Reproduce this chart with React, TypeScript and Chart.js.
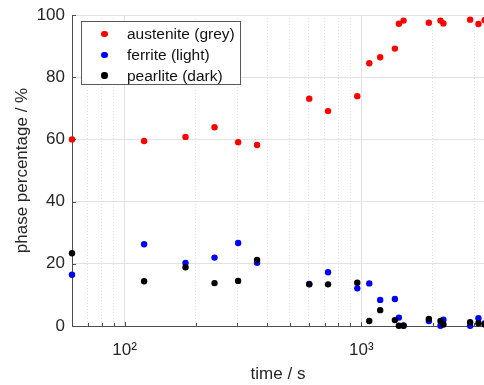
import React, { useEffect, useRef } from "react";
import { Chart, registerables } from "chart.js";

Chart.register(...registerables);

const times = [60, 121, 181, 240, 302, 363, 603, 724, 962, 1081, 1202, 1387, 1442, 1509, 1930, 2161, 2224, 2884, 3126, 3320];
const austenite = [60.0, 59.5, 60.8, 63.9, 59.1, 58.2, 73.1, 69.1, 73.9, 84.5, 86.4, 89.2, 97.2, 98.2, 97.5, 98.2, 97.3, 98.5, 97.1, 98.3];
const ferrite = [16.5, 26.3, 20.3, 22.0, 26.7, 20.3, 13.5, 17.3, 12.1, 13.7, 8.4, 8.7, 2.7, 0.2, 1.6, 0.1, 2.0, 0.1, 2.5, 0.8];
const pearlite = [23.4, 14.4, 18.9, 13.8, 14.5, 21.2, 13.4, 13.4, 13.9, 1.6, 5.1, 1.9, 0.1, 0.1, 2.3, 1.6, 0.5, 1.2, 0.9, 0.5];

const seriesLabels = ["austenite (grey)", "ferrite (light)", "pearlite (dark)"];
const seriesColors = ["#ff0000", "#0000ff", "#000000"];

const xMin = 60;
const xMax = 3300;
const yTicks = [0, 20, 40, 60, 80, 100];
const xMajorTicks = [100, 1000];
const xMinorTicks = [60, 70, 80, 90, 200, 300, 400, 500, 600, 700, 800, 900, 2000, 3000];
const xTickLabels: Record<number, string> = { 100: "10\u00B2", 1000: "10\u00B3" };

const FONT = "'Liberation Sans', Arial, Helvetica, sans-serif";
const AXIS_COLOR = "#4d4d4d";
const GRID_COLOR = "#e2e2e2";

const innerTicks = {
  id: "innerTicks",
  beforeDatasetsDraw(chart: any) {
    const { ctx, chartArea, scales } = chart;
    ctx.save();
    ctx.strokeStyle = AXIS_COLOR;
    ctx.lineWidth = 1;
    ctx.beginPath();
    for (const v of yTicks) {
      const y = Math.round(scales.y.getPixelForValue(v)) + 0.5;
      ctx.moveTo(chartArea.left, y);
      ctx.lineTo(chartArea.left + 4, y);
    }
    for (const v of [...xMajorTicks, ...xMinorTicks]) {
      const x = Math.round(scales.x.getPixelForValue(v)) + 0.5;
      ctx.moveTo(x, chartArea.bottom);
      ctx.lineTo(x, chartArea.bottom - (xMajorTicks.includes(v) ? 4 : 3));
    }
    ctx.stroke();
    ctx.restore();
  },
};

function makePoints(values: number[]) {
  return times.map((t, i) => ({ x: t, y: values[i] }));
}

function zeroPad(s: any) {
  s.paddingLeft = 0;
  s.paddingRight = 0;
  s.paddingTop = 0;
  s.paddingBottom = 0;
}

export default function App() {
  const canvasRef = useRef<HTMLCanvasElement | null>(null);

  useEffect(() => {
    document.body.style.margin = "0";
    const canvas = canvasRef.current;
    if (!canvas) return;
    const seriesValues = [austenite, ferrite, pearlite];
    const chart = new Chart(canvas, {
      type: "scatter",
      data: {
        datasets: seriesValues.map((vals, i) => ({
          label: seriesLabels[i],
          data: makePoints(vals),
          backgroundColor: seriesColors[i],
          borderColor: seriesColors[i],
          borderWidth: 0,
          pointRadius: 3.2,
          pointHoverRadius: 3.2,
          clip: false as any,
          order: 2 - i,
        })),
      },
      options: {
        animation: false,
        responsive: false,
        events: [],
        layout: { autoPadding: false, padding: { top: 15, right: 0, bottom: 0, left: 0 } },
        plugins: {
          legend: { display: false },
          tooltip: { enabled: false },
        },
        scales: {
          x: {
            type: "logarithmic",
            position: "bottom",
            min: xMin,
            max: xMax,
            afterBuildTicks: (s: any) => {
              s.ticks = [...xMinorTicks, ...xMajorTicks]
                .sort((a, b) => a - b)
                .map((v) => ({ value: v }));
            },
            afterFit: (s: any) => {
              s.height = 59;
              zeroPad(s);
            },
            grid: {
              drawTicks: false,
              color: (c: any) => (xMajorTicks.includes(c.tick?.value) ? GRID_COLOR : "rgba(0,0,0,0)"),
            },
            border: { display: true, color: AXIS_COLOR, width: 1 },
            ticks: {
              autoSkip: false,
              maxRotation: 0,
              padding: 14,
              color: "#262626",
              font: { family: FONT, size: 17 },
              callback: (v: any) => xTickLabels[Number(v)] ?? "",
            },
            title: {
              display: true,
              text: "time / s",
              color: "#262626",
              font: { family: FONT, size: 17 },
              padding: { top: 0, bottom: 0 },
            },
          },
          xm: {
            type: "logarithmic",
            position: "top",
            min: xMin,
            max: xMax,
            afterBuildTicks: (s: any) => {
              s.ticks = [...xMinorTicks].map((v) => ({ value: v }));
            },
            afterFit: (s: any) => {
              s.height = 0;
              zeroPad(s);
            },
            grid: { drawTicks: false, color: GRID_COLOR },
            border: { display: false, dash: [1, 2] },
            ticks: { display: false },
          },
          y: {
            type: "linear",
            position: "left",
            min: 0,
            max: 100,
            afterBuildTicks: (s: any) => {
              s.ticks = yTicks.map((v) => ({ value: v }));
            },
            afterFit: (s: any) => {
              s.width = 72;
              zeroPad(s);
            },
            grid: { drawTicks: false, color: GRID_COLOR },
            border: { display: true, color: AXIS_COLOR, width: 1 },
            ticks: {
              padding: 7,
              color: "#262626",
              font: { family: FONT, size: 17 },
            },
            title: {
              display: true,
              text: "phase percentage / %",
              color: "#262626",
              font: { family: FONT, size: 17 },
              padding: { top: 12, bottom: 0 },
            },
          },
        },
      },
      plugins: [innerTicks],
    } as any);
    return () => chart.destroy();
  }, []);

  return (
    <div style={{ position: "relative", width: 484, height: 385, background: "#fff", overflow: "hidden" }}>
      <canvas ref={canvasRef} width={484} height={385} style={{ display: "block" }} />
      <div
        style={{
          position: "absolute",
          left: 81,
          top: 21,
          width: 160,
          height: 64,
          border: "1px solid #5a5a5a",
          background: "#fff",
          fontFamily: FONT,
          fontSize: 15.5,
          color: "#111",
          boxSizing: "border-box",
        }}
      >
        {seriesLabels.map((label, i) => (
          <div
            key={label}
            style={{ position: "absolute", left: 0, top: 1.5 + i * 20.8, height: 21, display: "flex", alignItems: "center", whiteSpace: "nowrap" }}
          >
            <span
              style={{
                display: "inline-block",
                width: 6.5,
                height: 6.5,
                borderRadius: "50%",
                background: seriesColors[i],
                marginLeft: 19,
                marginRight: 19.5,
              }}
            />
            <span>{label}</span>
          </div>
        ))}
      </div>
    </div>
  );
}
